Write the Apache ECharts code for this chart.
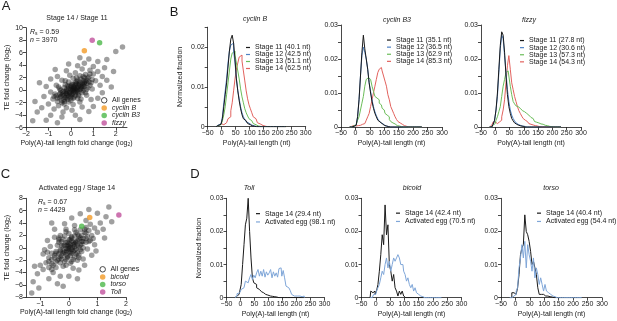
<!DOCTYPE html>
<html>
<head>
<meta charset="utf-8">
<script src="https://cdn.jsdelivr.net/npm/echarts@6/dist/echarts.min.js"></script>
<style>
  html, body { margin: 0; padding: 0; background: #fff; }
  #chart { width: 617px; height: 321px; }
</style>
</head>
<body>
<div id="chart"></div>
<script>
// ---- scatter data (log2 fold changes) ----
const scatterA = [
  [-0.5,-1.2],[-0.4,-0.8],[-0.3,-1.5],[-0.2,-0.5],[-0.1,-1.0],[0,-0.3],[0.1,0.2],[0.2,-0.4],[0.3,0.5],[0.4,0.9],
  [0.5,0.3],[0.6,1.2],[0.7,1.6],[0.2,0.8],[0,0.5],[-0.2,0.1],[-0.35,-0.2],[0.15,-1.1],[0.35,-0.6],[0.55,-0.1],
  [0.45,1.8],[0.25,1.4],[0.05,1.0],[-0.15,0.7],[-0.45,-0.4],[-0.6,-1.8],[-0.3,-2.2],[0.0,-1.6],[0.3,-1.3],[0.6,0.6],
  [0.8,2.1],[0.75,0.4],[0.9,1.2],[1.0,2.6],[0.65,2.5],[0.4,2.3],[0.1,1.9],[-0.1,1.3],[-0.25,0.9],[-0.5,0.2],
  [-0.7,-0.6],[-0.8,-1.4],[-0.55,-2.5],[-0.2,-2.8],[0.1,-2.3],[0.4,-1.9],[0.7,-0.8],[0.95,0.2],[1.1,1.5],[1.2,3.0],
  [0.85,3.2],[0.5,3.4],[0.2,2.8],[-0.05,2.4],[-0.4,1.6],[-0.65,0.8],[-0.9,-0.3],[-1.0,-2.2],[-0.75,-3.0],[-0.35,-3.5],
  [0.05,-3.2],[0.5,-2.7],[0.9,-1.5],[1.3,0.8],[1.4,2.2],[1.0,3.8],[0.6,4.3],[0.3,3.9],[-0.2,3.1],[-0.6,2.2],
  [-1.1,0.6],[-1.2,-1.0],[-1.3,-2.8],[-0.9,-4.0],[-0.4,-4.3],[0.2,-4.0],[0.8,-3.4],[1.2,-1.3],[1.6,1.6],[1.5,3.6],
  [1.2,4.6],[0.8,5.0],[0.4,5.2],[-0.1,4.2],[-0.7,3.3],[-1.4,1.2],[-1.6,-1.8],[-1.7,-4.9],[-1.1,-4.8],[-0.6,-5.2],
  [0.4,-4.7],[1.0,-2.6],[1.8,0.5],[1.9,3.0],[1.6,4.9],[2.3,6.9],[2.0,6.2],[-1.5,-3.5],[1.4,-0.4],[-0.9,1.8],
  [0.1,0.0],[0.0,0.1],[0.15,0.4],[0.25,-0.1],[-0.05,-0.6],[-0.15,-0.2],[0.3,0.2],[0.35,1.0],[0.45,0.5],[0.5,1.1],
  [0.2,-0.8],[0.1,-0.5],[-0.3,-0.9],[-0.1,0.3],[0.05,-0.1],[0.4,0.1],[0.6,1.0],[0.3,-0.3],[-0.25,-1.2],[0.12,0.6],
  [-0.4,-1.7],[0.55,1.5],[0.7,1.1],[-0.1,-1.9],[0.25,1.0],[0.0,-0.9],[0.2,0.1],[-0.2,-0.6],
  [-0.45,-1.0],[-0.35,-0.6],[-0.25,-0.3],[-0.15,-0.8],[-0.05,-0.4],[0.05,0.2],[0.15,-0.2],[0.25,0.4],[0.35,0.7],[0.45,0.2],
  [0.55,0.8],[0.65,1.4],[0.75,1.9],[0.3,1.6],[0.1,0.9],[-0.1,0.6],[-0.3,0.4],[-0.5,-0.6],[-0.6,-1.3],[-0.4,-2.0],
  [-0.15,-1.5],[0.1,-1.3],[0.35,-0.9],[0.5,-0.4],[0.7,0.1],[0.85,0.8],[0.95,1.7],[0.6,2.0],[0.4,1.3],[0.2,1.2],
  [0.0,0.7],[-0.2,-0.1],[-0.45,0.0],[-0.65,-0.9],[-0.2,-1.2],[0.05,-0.7],[0.3,0.0],[0.5,0.6],[0.8,1.3],[0.15,0.3],
  [0.0,-1.2],[-0.3,-1.8],[0.45,-1.4],[0.65,-0.4],[0.85,2.6],[0.55,2.2],[0.25,2.0],[-0.25,1.5],[-0.55,0.5],[-0.75,-1.0]
];
const scatterC = [
  [-0.2,-0.5],[0,0.2],[0.1,-0.3],[0.2,0.6],[-0.1,-1.1],[0.3,1.2],[-0.3,-1.5],[0.15,0.9],[-0.05,0.4],[0.05,-0.8],
  [0.25,-0.2],[-0.25,0.3],[0.4,0.5],[-0.4,-2.0],[0.35,1.9],[0.5,1.5],[-0.5,-1.2],[0.1,1.6],[-0.15,-2.2],[0.45,-0.6],
  [-0.35,0.9],[0.6,2.4],[-0.6,-2.6],[0.2,-1.5],[-0.2,1.4],[0.7,1.0],[-0.7,-1.6],[0.0,2.3],[0.05,-2.5],[0.55,3.0],
  [-0.45,-3.2],[0.3,-2.0],[-0.3,2.0],[0.8,2.0],[-0.8,-2.4],[0.65,-0.2],[-0.65,0.2],[0.9,3.2],[-0.9,-3.5],[0.4,2.9],
  [-0.1,3.0],[0.15,-3.3],[-0.55,-4.0],[0.75,3.8],[1.0,2.5],[-1.0,-2.8],[0.5,-1.8],[-0.5,1.7],[1.1,4.0],[-1.1,-4.2],
  [0.2,3.6],[-0.3,-4.6],[0.9,0.5],[-0.85,-0.3],[1.2,3.0],[-1.2,-3.0],[0.6,4.4],[-0.7,-5.0],[0.35,-3.6],[-0.15,3.9],
  [1.3,5.0],[1.25,1.6],[-1.25,-5.5],[0.1,4.8],[-0.4,-5.8],[0.8,-1.2],[-0.75,1.2],[1.0,5.6],[-1.05,-6.5],[0.4,5.5],
  [-0.2,-6.2],[0.55,-2.8],[-0.5,3.0],[0.7,6.2],[-0.9,-1.0],[1.4,6.6],[0.0,-4.6],[-0.6,4.0],[1.5,4.2],[0.3,-5.0],
  [-1.3,-7.3],[0.95,-0.5],[-0.1,-0.1],[0.05,0.5],[0.12,0.0],[-0.08,-0.5],[0.2,0.2],[0.25,0.8],[-0.2,-0.9],[0.0,-0.2],
  [0.15,-0.6],[-0.05,0.9],[0.35,0.1],[-0.3,-0.3],[0.1,1.1],[0.3,-0.8],[-0.15,0.4],[0.45,1.0],[-0.35,-1.0],[0.05,-1.3],
  [0.4,1.6],[-0.25,-1.8],[0.2,1.9],[-0.05,-1.6],[0.6,0.9],[-0.45,-0.6],[0.5,0.0],[0.0,1.3],[-0.1,-2.8],[0.25,2.5],
  [0.65,1.8],[-0.6,-0.9],[0.35,-1.2],[-0.35,1.3],[0.85,1.5],[-0.7,-3.2],
  [-0.15,-0.7],[-0.05,-0.2],[0.05,0.1],[0.15,0.5],[0.25,1.0],[0.35,1.4],[-0.25,-1.3],[-0.35,-1.8],[0.45,2.0],[-0.45,-2.3],
  [0.1,-0.9],[-0.1,0.8],[0.3,0.4],[-0.3,-0.5],[0.2,-0.4],[-0.2,0.3],[0.5,1.0],[-0.5,-1.6],[0.4,-0.3],[-0.4,0.4],
  [0.0,0.6],[0.0,-0.6],[0.1,1.8],[-0.1,-1.9],[0.55,2.5],[-0.55,-2.8],[0.3,2.2],[-0.3,-2.4],[0.6,1.5],[-0.6,-1.9],
  [0.15,-1.9],[-0.15,1.9],[0.25,-1.0],[-0.25,1.0],[0.7,2.8],[-0.7,-2.2],[0.45,0.6],[-0.45,-0.9],[0.05,1.4],[-0.05,-1.4],
  [0.35,-1.6],[-0.35,1.6],[0.2,2.9],[-0.2,-3.0],[0.75,1.2],[-0.75,-0.7],[0.6,3.3],[-0.6,-3.5],[0.1,-2.2],[-0.1,2.6]
];
const cyclinBPt = [[0.6, 6.3]];
const cyclinB3Pt = [[1.28, 7.6]];
const fizzyPt = [[0.95, 8.0]];
const bicoidPt = [[0.73, 4.9]];
const torsoPt = [[0.45, 3.5]];
const tollPt = [[1.75, 5.3]];

// ---- histogram bins (nt) and normalized fractions ----
const bins = [-20,-15,-10,-5,0,5,10,15,20,25,30,35,40,45,50,55,60,65,70,75,
  80,85,90,95,100,105,110,115,120,125,130,135,140,145,150,155,160,165,170,175,
  180,185,190,195,200,205,210,215,220,225,230];

const cycB_s11 = [0,0,0.0003,0.0006,0.0008,0.002,0.005,0.008,0.011,0.015,
  0.019,0.022,0.023,0.021,0.017,0.012,0.009,0.0065,0.0045,0.003,
  0.002,0.0015,0.001,0.0008,0.0005,0.0003,0.0002,0.0001,0.0001,0,
  0,0,0,0,0,0,0,0,0,0, 0,0,0,0,0,0,0,0,0,0, 0];
const cycB_s12 = [0,0,0.0004,0.0007,0.001,0.0025,0.006,0.009,0.012,0.016,
  0.019,0.0205,0.021,0.019,0.016,0.012,0.009,0.007,0.005,0.0035,
  0.0025,0.0018,0.0012,0.0009,0.0006,0.0004,0.0003,0.0002,0.0001,0,
  0,0,0,0,0,0,0,0,0,0, 0,0,0,0,0,0,0,0,0,0, 0];
const cycB_s13 = [0,0,0.0003,0.0005,0.0008,0.0015,0.003,0.005,0.008,0.011,
  0.014,0.017,0.0185,0.019,0.018,0.016,0.014,0.012,0.0095,0.0075,
  0.006,0.0045,0.0035,0.0027,0.002,0.0015,0.0011,0.0008,0.0005,0.0003,
  0.0002,0.0001,0,0,0,0,0,0,0,0, 0,0,0,0,0,0,0,0,0,0, 0];
const cycB_s14 = [0,0.0003,0.0008,0.0008,0.0005,0.0005,0.0008,0.001,0.0015,0.002,
  0.0025,0.004,0.006,0.009,0.012,0.0145,0.016,0.0175,0.018,0.0165,
  0.014,0.0115,0.009,0.007,0.0055,0.0045,0.0035,0.0025,0.002,0.0015,
  0.001,0.0007,0.0005,0.0003,0.0002,0.0001,0,0,0,0, 0,0,0,0,0,0,0,0,0,0, 0];

const cycB3_s11 = [0,0,0,0.0002,0.0005,0.001,0.003,0.008,0.015,0.022,
  0.027,0.023,0.02,0.017,0.013,0.01,0.0075,0.0055,0.004,0.003,
  0.002,0.0015,0.001,0.0007,0.0005,0.0003,0.0002,0.0001,0,0,
  0,0,0,0,0,0,0,0,0,0, 0,0,0,0,0,0,0,0,0,0, 0];
const cycB3_s12 = [0,0,0,0.0002,0.0005,0.001,0.003,0.008,0.015,0.021,
  0.0235,0.022,0.02,0.017,0.013,0.0105,0.008,0.006,0.0045,0.0033,
  0.0024,0.0017,0.0012,0.0008,0.0005,0.0003,0.0002,0.0001,0,0,
  0,0,0,0,0,0,0,0,0,0, 0,0,0,0,0,0,0,0,0,0, 0];
const cycB3_s13 = [0,0,0.0002,0.0004,0.0006,0.001,0.002,0.003,0.005,0.007,
  0.009,0.012,0.014,0.0145,0.014,0.0135,0.012,0.0105,0.009,0.0085,
  0.008,0.007,0.0065,0.0055,0.005,0.004,0.0035,0.003,0.0022,0.0016,
  0.0012,0.0009,0.0006,0.0004,0.0003,0.0002,0.0001,0,0,0, 0,0,0,0,0,0,0,0,0,0, 0];
const cycB3_s14 = [0,0.0002,0.0005,0.0005,0.0003,0.0003,0.0004,0.0005,0.0006,0.0008,
  0.001,0.0013,0.002,0.003,0.004,0.006,0.008,0.01,0.012,0.014,
  0.016,0.017,0.0175,0.0165,0.015,0.0135,0.012,0.0095,0.008,0.006,
  0.005,0.004,0.003,0.0022,0.0016,0.0012,0.0008,0.0006,0.0004,0.0002,
  0.0001,0,0,0,0,0,0,0,0,0, 0];

const fzy_s11 = [0,0,0.0003,0.0008,0.002,0.005,0.01,0.017,0.024,0.028,
  0.027,0.022,0.015,0.0095,0.006,0.004,0.0025,0.0018,0.0012,0.0008,
  0.0005,0.0004,0.0003,0.0002,0.0001,0,0,0,0,0,
  0,0,0,0,0,0,0,0,0,0, 0,0,0,0,0,0,0,0,0,0, 0];
const fzy_s12 = [0,0,0.0003,0.0008,0.002,0.005,0.009,0.016,0.023,0.027,
  0.026,0.021,0.016,0.011,0.0075,0.005,0.0035,0.0025,0.0018,0.0012,
  0.0008,0.0005,0.0004,0.0003,0.0002,0.0001,0,0,0,0,
  0,0,0,0,0,0,0,0,0,0, 0,0,0,0,0,0,0,0,0,0, 0];
const fzy_s13 = [0,0,0.0003,0.0006,0.001,0.002,0.003,0.0045,0.006,0.009,
  0.012,0.014,0.016,0.0165,0.015,0.012,0.0095,0.0075,0.0068,0.0062,
  0.006,0.0055,0.005,0.0048,0.0045,0.0042,0.004,0.0035,0.003,0.0028,
  0.0025,0.002,0.0016,0.0014,0.0012,0.001,0.0009,0.0008,0.0006,0.0005,
  0.0004,0.0003,0.0002,0.0001,0,0,0,0,0,0, 0];
const fzy_s14 = [0,0.0005,0.001,0.0015,0.0015,0.001,0.0012,0.0015,0.002,0.003,
  0.005,0.008,0.013,0.018,0.021,0.017,0.013,0.011,0.009,0.0075,
  0.006,0.0048,0.004,0.0032,0.0025,0.002,0.0016,0.0013,0.001,0.0008,
  0.0006,0.0005,0.0004,0.0003,0.0002,0.0001,0,0,0,0, 0,0,0,0,0,0,0,0,0,0, 0];

const toll_s14 = [0,0.0005,0.0008,0.001,0.002,0.004,0.01,0.016,0.022,0.024,
  0.03,0.02,0.012,0.006,0.0045,0.004,0.003,0.0025,0.002,0.0018,
  0.0015,0.0012,0.001,0.0008,0.0007,0.0005,0.0005,0.0004,0.0003,0.0003,
  0.0002,0,0,0,0,0,0,0,0,0, 0,0,0,0,0,0,0,0,0,0, 0];
const toll_egg = [0,0.0005,0.0012,0.0015,0.002,0.0025,0.003,0.0035,0.005,0.0045,
  0.004,0.006,0.007,0.0055,0.0068,0.006,0.0075,0.0085,0.0065,0.008,
  0.0065,0.0085,0.0062,0.0078,0.0068,0.0075,0.0085,0.006,0.0078,0.0065,
  0.0075,0.0062,0.0088,0.009,0.0065,0.0082,0.006,0.0035,0.003,0.003,
  0.0022,0.001,0.0005,0.0003,0.0005,0.0005,0.0005,0.0003,0.0003,0.0005, 0];

const bcd_s14 = [0,0.002,0.0015,0.002,0.001,0.002,0.004,0.008,0.013,0.019,
  0.016,0.028,0.019,0.022,0.01,0.008,0.005,0.007,0.003,0.002,
  0.0005,0.002,0.001,0.002,0.0005,0,0,0,0,0,
  0,0,0,0,0,0,0,0,0,0, 0,0,0,0,0,0,0,0,0,0, 0];
const bcd_egg = [0,0,0.0005,0.001,0.001,0.002,0.003,0.004,0.006,0.008,
  0.007,0.01,0.012,0.009,0.011,0.008,0.01,0.012,0.011,0.012,
  0.013,0.012,0.01,0.01,0.008,0.007,0.005,0.006,0.004,0.003,
  0.004,0.002,0.003,0.0015,0.001,0.0005,0.0008,0.0003,0,0,
  0,0,0,0,0,0,0,0,0,0, 0];

const tor_s14 = [0,0,0.0015,0.0015,0.001,0.001,0.003,0.007,0.013,0.015,
  0.016,0.025,0.02,0.019,0.017,0.014,0.01,0.011,0.009,0.007,
  0.003,0.001,0.001,0.001,0.0008,0.0005,0.0005,0.0003,0.0003,0.0002,
  0.0003,0,0,0,0,0,0,0,0,0, 0,0,0,0,0,0,0,0,0,0, 0];
const tor_egg = [0,0,0,0.0005,0.001,0.002,0.003,0.009,0.012,0.016,
  0.012,0.017,0.009,0.016,0.013,0.011,0.008,0.012,0.006,0.009,
  0.007,0.004,0.006,0.004,0.002,0.004,0.002,0.0015,0.001,0.0008,
  0.0005,0.0003,0.0003,0,0,0,0,0,0,0, 0,0,0,0,0,0,0,0,0,0, 0];

// ---- styling ----
const FONT = '"Liberation Sans", Arial, Helvetica, sans-serif';
const INK = '#1a1a1a';
const C_S11 = '#1a1a1a', C_S12 = '#4f82c4', C_S13 = '#6cbd5a', C_S14 = '#e2625e';
const C_EGG = '#7fa6d8';
const C_ORANGE = '#f29a26', C_GREEN = '#4cb84a', C_PURPLE = '#c0519c';

const chart = echarts.init(document.getElementById('chart'), null, { renderer: 'canvas' });

const minus = (v) => (v < 0 ? '\u2212' + Math.abs(v) : String(v));
const subRich = { sub: { fontSize: 5, verticalAlign: 'bottom', padding: [3, 0, 0, 0], fontFamily: FONT, color: INK } };

function axis(gridIndex, extra) {
  return Object.assign({
    gridIndex,
    type: 'value',
    axisLine: { onZero: false, lineStyle: { color: INK, width: 0.8 } },
    axisTick: { length: 3, lineStyle: { color: INK, width: 0.8 } },
    axisLabel: { color: INK, fontSize: 7, margin: 3, fontFamily: FONT, formatter: minus },
    splitLine: { show: false },
    nameLocation: 'middle',
    nameTextStyle: { color: INK, fontSize: 7, fontFamily: FONT, rich: subRich }
  }, extra);
}

function histX(gridIndex) {
  return axis(gridIndex, { min: -50, max: 300, interval: 50, name: 'Poly(A)-tail length (nt)', nameGap: 13 });
}
function histY(gridIndex, max, name) {
  const y = axis(gridIndex, { min: 0, max: max, interval: 0.005, name: name || '', nameGap: 24 });
  y.axisLabel = Object.assign({}, y.axisLabel, {
    formatter: (v) => (v === 0 ? '0' : (Math.round(v * 1000) % 10 === 0 ? v.toFixed(2) : ''))
  });
  return y;
}

const pairs = (arr) => bins.map((b, i) => [b, arr[i]]);
function hist(name, arr, color, idx) {
  return {
    name, type: 'line', step: 'middle', data: pairs(arr),
    xAxisIndex: idx, yAxisIndex: idx, showSymbol: false, silent: true,
    lineStyle: { color, width: 1 }, itemStyle: { color }
  };
}
function pts(name, data, color, idx, size) {
  return {
    name, type: 'scatter', data, xAxisIndex: idx, yAxisIndex: idx,
    symbolSize: size, silent: true, itemStyle: { color }, z: 3
  };
}
function lineLegend(left, top, names, lh) {
  return {
    left, top, orient: 'vertical', itemGap: 0, itemWidth: 4, itemHeight: 1.2,
    icon: 'rect', selectedMode: false, padding: 0,
    textStyle: { fontSize: 7, color: INK, fontFamily: FONT, lineHeight: lh },
    data: names
  };
}
function dotLegend(left, top, items) {
  return {
    left, top, orient: 'vertical', itemGap: 0, itemWidth: 5.5, itemHeight: 5.5,
    selectedMode: false, padding: 0,
    textStyle: { fontSize: 7, color: INK, fontFamily: FONT, lineHeight: 7.6 },
    data: [{ name: 'All genes', icon: 'circle',
      itemStyle: { color: '#fff', opacity: 1, borderColor: '#333', borderWidth: 0.9 } }]
      .concat(items.map((n) => ({ name: n, icon: 'circle', textStyle: { fontStyle: 'italic' } })))
  };
}
function txt(x, y, text, size, extra) {
  return {
    type: 'text', x, y, silent: true,
    style: Object.assign({ text, fontSize: size, fontFamily: FONT, fill: INK, align: 'center', verticalAlign: 'middle' }, extra || {})
  };
}
const statRich = {
  i: { fontStyle: 'italic', fontSize: 7, fontFamily: FONT, color: INK },
  sub: { fontSize: 5, verticalAlign: 'bottom', padding: [3, 0, 0, 0], fontFamily: FONT, color: INK }
};
const cloud = { color: '#111', opacity: 0.4 };

const option = {
  animation: false,
  backgroundColor: '#fff',
  textStyle: { fontFamily: FONT },
  grid: [
    { left: 26, top: 27.7, width: 101, height: 100 },
    { left: 207.7, top: 27.2, width: 98, height: 99.5 },
    { left: 341, top: 25, width: 101, height: 102 },
    { left: 481, top: 25, width: 100, height: 102 },
    { left: 26, top: 198.3, width: 100, height: 99 },
    { left: 226.5, top: 198.3, width: 98, height: 99.4 },
    { left: 361.5, top: 198.3, width: 100, height: 99.4 },
    { left: 501, top: 198.3, width: 101, height: 99.4 }
  ],
  xAxis: [
    axis(0, { min: -2, max: 2.5, name: 'Poly(A)-tail length fold change (log{sub|2})', nameGap: 11,
      axisLabel: { color: INK, fontSize: 7, margin: 3, fontFamily: FONT, formatter: minus, customValues: [-2, -1, 0, 1, 2] },
      axisTick: { length: 3, lineStyle: { color: INK, width: 0.8 }, customValues: [-2, -1, 0, 1, 2] } }),
    histX(1), histX(2), histX(3),
    axis(4, { min: -1.5, max: 2, name: 'Poly(A)-tail length fold change (log{sub|2})', nameGap: 11,
      axisLabel: { color: INK, fontSize: 7, margin: 3, fontFamily: FONT, formatter: minus, customValues: [-1, 0, 1, 2] },
      axisTick: { length: 3, lineStyle: { color: INK, width: 0.8 }, customValues: [-1, 0, 1, 2] } }),
    histX(5), histX(6), histX(7)
  ],
  yAxis: [
    axis(0, { min: -6, max: 10, interval: 2, name: 'TE fold change (log{sub|2})', nameGap: 15 }),
    histY(1, 0.025, 'Normalized fraction'), histY(2, 0.03), histY(3, 0.03),
    axis(4, { min: -8, max: 8, interval: 2, name: 'TE fold change (log{sub|2})', nameGap: 15 }),
    histY(5, 0.03, 'Normalized fraction'), histY(6, 0.03), histY(7, 0.03)
  ],
  legend: [
    dotLegend(101, 96.5, ['cyclin B', 'cyclin B3', 'fizzy']),
    lineLegend(246, 44, ['Stage 11 (40.1 nt)', 'Stage 12 (42.5 nt)', 'Stage 13 (51.1 nt)', 'Stage 14 (62.5 nt)'], 6.2),
    lineLegend(387, 36.5, ['Stage 11 (35.1 nt)', 'Stage 12 (36.5 nt)', 'Stage 13 (62.9 nt)', 'Stage 14 (85.3 nt)'], 7.1),
    lineLegend(520, 37, ['Stage 11 (27.8 nt)', 'Stage 12 (30.6 nt)', 'Stage 13 (57.3 nt)', 'Stage 14 (54.3 nt)'], 7.1),
    dotLegend(99.5, 265.5, ['bicoid', 'torso', 'Toll']),
    lineLegend(256, 209.5, ['Stage 14 (29.4 nt)', 'Activated egg (98.1 nt)'], 8.3),
    lineLegend(396, 209, ['Stage 14 (42.4 nt)', 'Activated egg (70.5 nt)'], 8.3),
    lineLegend(537, 209, ['Stage 14 (40.4 nt)', 'Activated egg (54.4 nt)'], 8.3)
  ],
  series: [
    { name: 'All genes', type: 'scatter', data: scatterA, xAxisIndex: 0, yAxisIndex: 0, symbolSize: 5.5, silent: true, itemStyle: cloud },
    pts('cyclin B', cyclinBPt, C_ORANGE, 0, 5.5),
    pts('cyclin B3', cyclinB3Pt, C_GREEN, 0, 5.5),
    pts('fizzy', fizzyPt, C_PURPLE, 0, 5.5),

    hist('Stage 14 (62.5 nt)', cycB_s14, C_S14, 1),
    hist('Stage 13 (51.1 nt)', cycB_s13, C_S13, 1),
    hist('Stage 12 (42.5 nt)', cycB_s12, C_S12, 1),
    hist('Stage 11 (40.1 nt)', cycB_s11, C_S11, 1),

    hist('Stage 14 (85.3 nt)', cycB3_s14, C_S14, 2),
    hist('Stage 13 (62.9 nt)', cycB3_s13, C_S13, 2),
    hist('Stage 12 (36.5 nt)', cycB3_s12, C_S12, 2),
    hist('Stage 11 (35.1 nt)', cycB3_s11, C_S11, 2),

    hist('Stage 14 (54.3 nt)', fzy_s14, C_S14, 3),
    hist('Stage 13 (57.3 nt)', fzy_s13, C_S13, 3),
    hist('Stage 12 (30.6 nt)', fzy_s12, C_S12, 3),
    hist('Stage 11 (27.8 nt)', fzy_s11, C_S11, 3),

    { name: 'All genes', type: 'scatter', data: scatterC, xAxisIndex: 4, yAxisIndex: 4, symbolSize: 5.5, silent: true, itemStyle: cloud },
    pts('bicoid', bicoidPt, C_ORANGE, 4, 5.5),
    pts('torso', torsoPt, C_GREEN, 4, 5.5),
    pts('Toll', tollPt, C_PURPLE, 4, 5.5),

    hist('Stage 14 (29.4 nt)', toll_s14, C_S11, 5),
    hist('Activated egg (98.1 nt)', toll_egg, C_EGG, 5),
    hist('Stage 14 (42.4 nt)', bcd_s14, C_S11, 6),
    hist('Activated egg (70.5 nt)', bcd_egg, C_EGG, 6),
    hist('Stage 14 (40.4 nt)', tor_s14, C_S11, 7),
    hist('Activated egg (54.4 nt)', tor_egg, C_EGG, 7)
  ],
  graphic: [
    txt(6, 6, 'A', 13), txt(174, 12.5, 'B', 13), txt(5.5, 174, 'C', 13), txt(195, 174, 'D', 13),
    txt(77, 18, 'Stage 14 / Stage 11', 7),
    txt(255, 19.5, 'cyclin B', 7, { fontStyle: 'italic' }),
    txt(397, 20, 'cyclin B3', 7, { fontStyle: 'italic' }),
    txt(529, 20, 'fizzy', 7, { fontStyle: 'italic' }),
    txt(77, 188, 'Activated egg / Stage 14', 7),
    txt(249, 188, 'Toll', 7, { fontStyle: 'italic' }),
    txt(412, 188, 'bicoid', 7, { fontStyle: 'italic' }),
    txt(551, 188, 'torso', 7, { fontStyle: 'italic' }),
    txt(30, 32, '{i|R}{sub|s} = 0.59', 7, { align: 'left', rich: statRich }),
    txt(30, 40, '{i|n} = 3970', 7, { align: 'left', rich: statRich }),
    txt(38, 202, '{i|R}{sub|s} = 0.67', 7, { align: 'left', rich: statRich }),
    txt(38, 210, '{i|n} = 4429', 7, { align: 'left', rich: statRich })
  ]
};

chart.setOption(option);
window.addEventListener('resize', () => chart.resize());
</script>
</body>
</html>
